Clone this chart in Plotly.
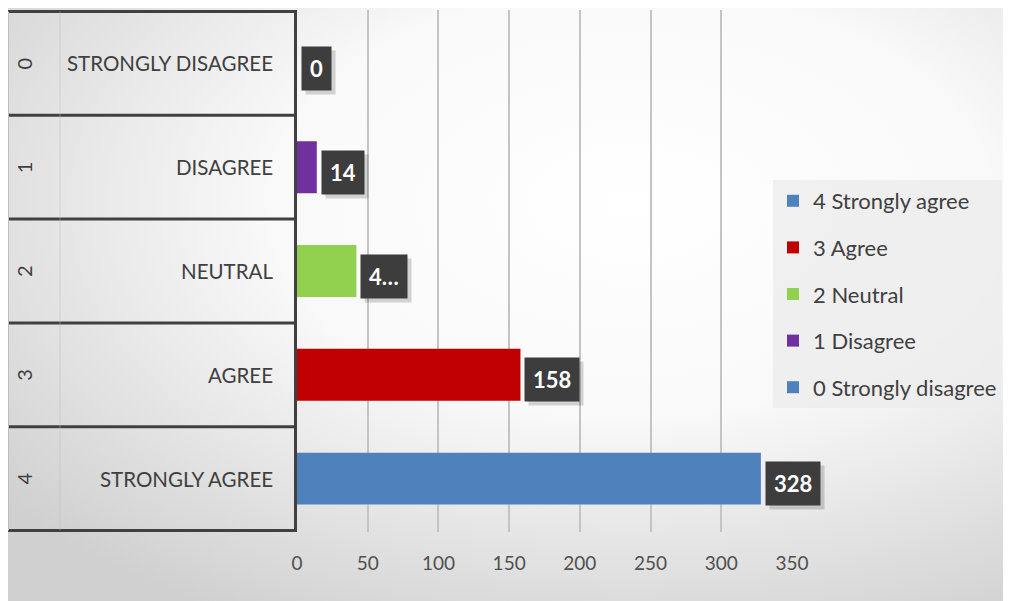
import base64
import plotly.graph_objs as go

# chart data
levels = ['0', '1', '2', '3', '4']
answers = ['STRONGLY DISAGREE', 'DISAGREE', 'NEUTRAL', 'AGREE', 'STRONGLY AGREE']
series_names = ['0 Strongly disagree', '1 Disagree', '2 Neutral', '3 Agree', '4 Strongly agree']
counts = [0, 14, 42, 158, 328]
value_labels = ['0', '14', '4…', '158', '328']
colors = ['#4F81BD', '#7030A0', '#92D050', '#C00000', '#4F81BD']
x_ticks = [0, 50, 100, 150, 200, 250, 300, 350]

# the page body adds an 8px offset, so the figure is a bit smaller
W, H = 1003, 593
L, R, T, B = 289, 219, 2, 69
pw = W - L - R
ph = H - T - B

font_family = 'Lato, Open Sans, sans-serif'
text_color = '#404040'

# soft radial background like the office theme
svg = (
    '<svg xmlns="http://www.w3.org/2000/svg" width="1003" height="593">'
    '<defs><radialGradient id="g" cx="0.62" cy="0.33" r="0.8">'
    '<stop offset="0" stop-color="#ffffff"/>'
    '<stop offset="0.45" stop-color="#f9f9f9"/>'
    '<stop offset="1" stop-color="#d0d0d0"/>'
    '</radialGradient></defs>'
    '<rect width="1003" height="593" fill="url(#g)"/></svg>'
)
bg_src = 'data:image/svg+xml;base64,' + base64.b64encode(svg.encode()).decode()

fig = go.Figure()

# one series per answer, legend shows 4 first
for i in reversed(range(len(answers))):
    fig.add_trace(go.Bar(
        x=[counts[i]],
        y=[answers[i]],
        orientation='h',
        name=series_names[i],
        legendgroup=series_names[i],
        width=0.5,
        marker=dict(color=colors[i], line=dict(width=0)),
        hoverinfo='x+y',
    ))

annotations = []
for i in range(len(answers)):
    # data label shadow
    annotations.append(dict(
        x=counts[i], y=answers[i], xref='x', yref='y',
        text='<b>' + value_labels[i] + '</b>', showarrow=False,
        xanchor='left', yanchor='middle', xshift=8, yshift=-9,
        font=dict(family=font_family, size=22, color='rgba(0,0,0,0)'),
        bgcolor='rgba(0,0,0,0.16)', borderpad=8,
    ))
    # data label
    annotations.append(dict(
        x=counts[i], y=answers[i], xref='x', yref='y',
        text='<b>' + value_labels[i] + '</b>', showarrow=False,
        xanchor='left', yanchor='middle', xshift=4, yshift=-5,
        font=dict(family=font_family, size=22, color='white'),
        bgcolor='#3d3d3d', borderpad=8,
    ))
    # category labels in the left table
    annotations.append(dict(
        x=0, y=answers[i], xref='paper', yref='y',
        text=answers[i], showarrow=False,
        xanchor='right', yanchor='middle', xshift=-22,
        font=dict(family=font_family, size=20.5, color=text_color),
    ))
    annotations.append(dict(
        x=0, y=answers[i], xref='paper', yref='y',
        text=levels[i], showarrow=False, textangle=-90,
        xanchor='center', yanchor='middle', xshift=-273,
        font=dict(family=font_family, size=20, color=text_color),
    ))

# table lines on the left
x_left = -289 / pw
x_mid = -237 / pw
shapes = []
for k in range(len(answers) + 1):
    shapes.append(dict(
        type='line', xref='paper', yref='y',
        x0=x_left, x1=0, y0=k - 0.5, y1=k - 0.5,
        line=dict(color='#404040', width=3),
    ))
shapes.append(dict(
    type='line', xref='paper', yref='y',
    x0=x_left, x1=x_left, y0=-0.5, y1=len(answers) - 0.5,
    line=dict(color='#bdbdbd', width=2),
))
shapes.append(dict(
    type='line', xref='paper', yref='y',
    x0=x_mid, x1=x_mid, y0=-0.5, y1=len(answers) - 0.5,
    line=dict(color='rgba(190,190,190,0.5)', width=1),
))

fig.update_layout(
    width=W, height=H,
    margin=dict(l=L, r=R, t=T, b=B),
    paper_bgcolor='#e2e2e2',
    plot_bgcolor='rgba(0,0,0,0)',
    barmode='overlay',
    font=dict(family=font_family, color=text_color),
    images=[dict(
        source=bg_src, xref='paper', yref='paper',
        x=-L / pw, y=1 + T / ph, sizex=W / pw, sizey=H / ph,
        xanchor='left', yanchor='top', sizing='stretch', layer='below',
    )],
    xaxis=dict(
        range=[0, 350],
        tickvals=x_ticks,
        showgrid=True, gridcolor='#c4c4c4', gridwidth=1.5,
        zeroline=False, showline=False, ticks='',
        tickfont=dict(family=font_family, size=19, color='#505050'),
        ticklabelstandoff=18,
        fixedrange=True,
    ),
    yaxis=dict(
        categoryorder='array', categoryarray=answers,
        autorange='reversed',
        showticklabels=False, showgrid=False, zeroline=False,
        showline=True, linecolor='#404040', linewidth=3,
        fixedrange=True,
    ),
    legend=dict(
        x=(765 - L) / pw, y=1 - (172 - T) / ph,
        xanchor='left', yanchor='top',
        bgcolor='rgba(236,236,236,0.8)',
        font=dict(family=font_family, size=22, color=text_color),
        tracegroupgap=15,
        itemwidth=30,
    ),
    annotations=annotations,
    shapes=shapes,
    showlegend=True,
)

fig.write_html('out.html')
